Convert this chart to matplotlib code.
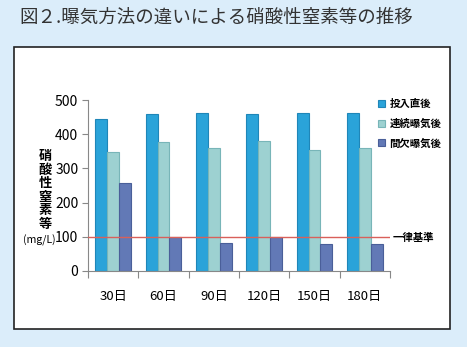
import matplotlib.pyplot as plt
import numpy as np
from matplotlib.patches import Rectangle

plt.rcParams['font.family'] = ['Noto Sans CJK JP', 'DejaVu Sans']

days = ["30日", "60日", "90日", "120日", "150日", "180日"]
series_names = ["投入直後", "連続曝気後", "間欠曝気後"]
after_input = [445, 460, 463, 460, 462, 462]
continuous = [348, 378, 360, 380, 355, 360]
intermittent = [256, 100, 82, 98, 80, 80]
standard = 100
ylabel_chars = "硝酸性窒素等"

colors = ["#2aa3d9", "#9dd1d1", "#6279b6"]
edges = ["#1f86b8", "#78b5b8", "#4a5f99"]

fig = plt.figure(figsize=(4.67, 3.47), dpi=100)
fig.patch.set_facecolor("#dbedfa")

# white panel
fig.add_artist(Rectangle((14 / 467, 1 - 329 / 347), 436 / 467, 282 / 347,
                         transform=fig.transFigure, facecolor="white",
                         edgecolor="#222222", linewidth=1.2, zorder=0))

fig.text(19 / 467, 1 - 18 / 347, "図２.曝気方法の違いによる硝酸性窒素等の推移",
         fontsize=13.3, va="center", ha="left", color="#333333")

ax = fig.add_axes([88 / 467, 1 - 271 / 347, 302 / 467, 171 / 347])
ax.set_facecolor("none")

x = np.arange(len(days))
w = 0.235
data = [after_input, continuous, intermittent]
for i, vals in enumerate(data):
    ax.bar(x + (i - 1) * w, vals, w, color=colors[i], edgecolor=edges[i],
           linewidth=0.8, label=series_names[i], zorder=2)

ax.axhline(standard, color="#d9605a", linewidth=1.0, zorder=3)

ax.set_xlim(-0.5, len(days) - 0.5)
ax.set_ylim(0, 500)
ax.set_yticks([0, 100, 200, 300, 400, 500])
ax.set_xticks(np.arange(len(days) + 1) - 0.5)
ax.set_xticklabels([])
ax.set_xticks(x, minor=True)
ax.set_xticklabels(days, minor=True)
ax.tick_params(axis="x", which="minor", length=0, pad=14, labelsize=9.5)
ax.tick_params(axis="x", which="major", length=5, direction="out", color="#888888")
ax.tick_params(axis="y", length=4, color="#888888", labelsize=10, pad=3)

for s in ["top", "right"]:
    ax.spines[s].set_visible(False)
for s in ["left", "bottom"]:
    ax.spines[s].set_color("#888888")

# vertical y label, one character per line
for k, ch in enumerate(ylabel_chars):
    fig.text(45 / 467, 1 - (156 + k * 13.6) / 347, ch, fontsize=9.5,
             fontweight="bold", ha="center", va="center")
fig.text(39 / 467, 1 - 240 / 347, "(mg/L)", fontsize=7.6, ha="center", va="center")

fig.text(393 / 467, 1 - 238 / 347, "一律基準", fontsize=7.5, fontweight="bold",
         ha="left", va="center")

leg = ax.legend(loc="upper left", bbox_to_anchor=(374 / 467, 1 - 95 / 347),
                bbox_transform=fig.transFigure, frameon=False, fontsize=7.5,
                handlelength=0.7, handleheight=0.7, handletextpad=0.4,
                labelspacing=0.9, borderaxespad=0)
for t in leg.get_texts():
    t.set_fontweight("bold")

fig.savefig("out.png", dpi=100, facecolor=fig.get_facecolor())
